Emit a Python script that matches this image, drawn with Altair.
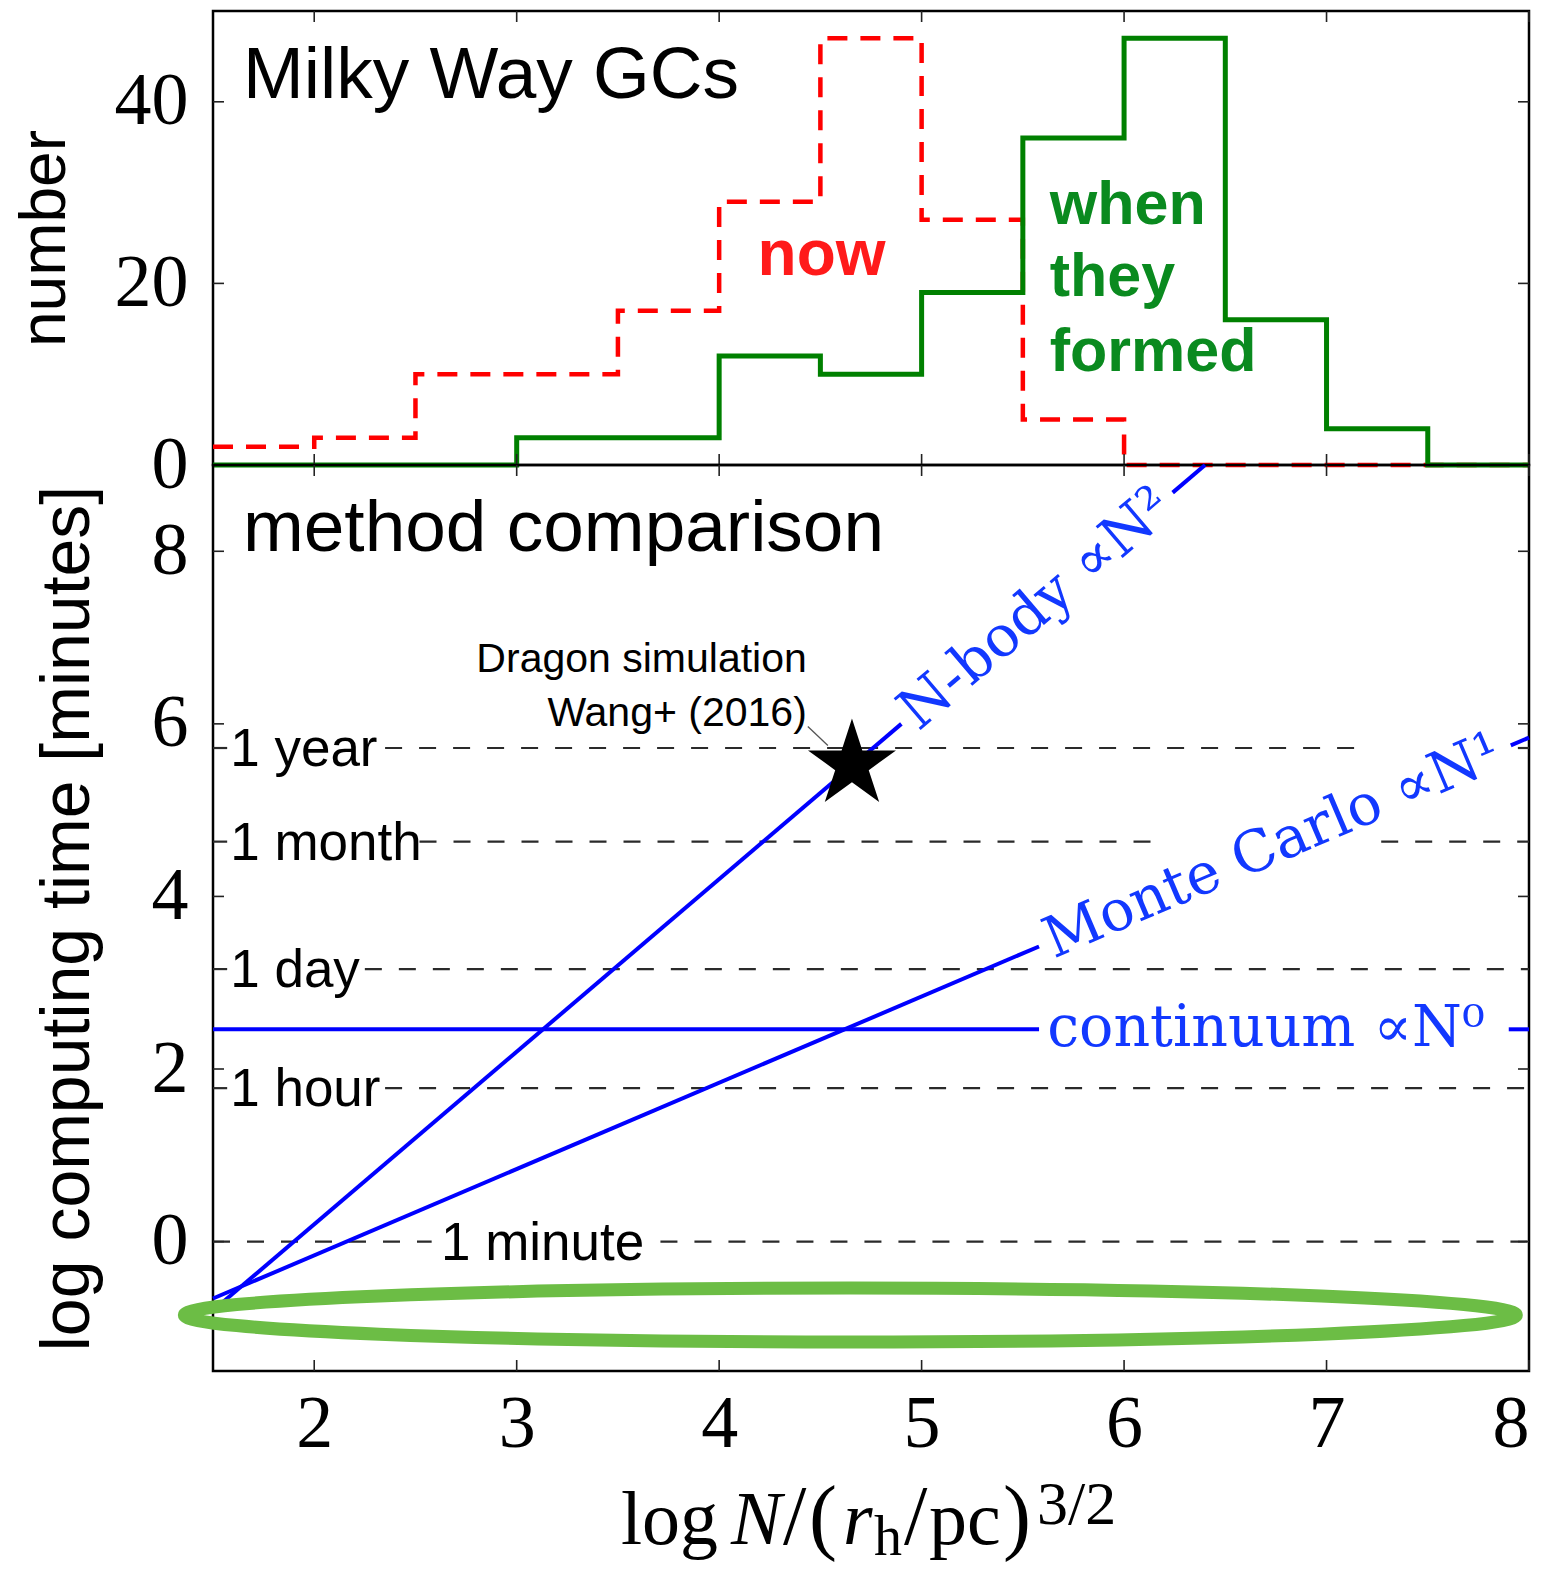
import altair as alt
import pandas as pd

# ---------------- data ----------------
bin_edges = [1.5, 2.0, 2.5, 3.0, 3.5, 4.0, 4.5, 5.0, 5.5, 6.0, 6.5, 7.0, 7.5, 8.0]
now_counts = [2, 3, 10, 10, 17, 29, 47, 27, 5, 0, 0, 0, 0]
formed_counts = [0, 0, 0, 3, 3, 12, 10, 19, 36, 47, 16, 4, 0]

x_ticks = [2, 3, 4, 5, 6, 7, 8]
top_y_ticks = [0, 20, 40]
bottom_y_ticks = [0, 2, 4, 6, 8]

time_labels = ["1 year", "1 month", "1 day", "1 hour", "1 minute"]
time_values = [5.72, 4.635, 3.158, 1.778, 0.0]
time_label_x = [1.585, 1.585, 1.585, 1.585, 2.626]

dash_y = [5.72, 5.72, 5.72, 4.635, 4.635, 4.635, 3.158, 3.158, 1.778, 1.778, 0.0, 0.0]
dash_x0 = [1.5, 2.35, 7.945, 1.5, 2.52, 7.27, 1.5, 2.25, 1.5, 2.35, 1.5, 3.71]
dash_x1 = [1.57, 7.18, 8.0, 1.57, 6.17, 8.0, 1.57, 8.0, 1.57, 8.0, 2.58, 8.0]

seg_x0 = [1.5, 6.24, 1.5, 7.91, 1.5, 7.90]
seg_y0 = [-0.80, 8.68, -0.66, 5.75, 2.46, 2.46]
seg_x1 = [4.90, 6.40, 5.58, 8.0, 5.58, 8.0]
seg_y1 = [6.00, 9.00, 3.42, 5.84, 2.46, 2.46]

method_labels = ["N-body \u221dN\u00b2", "Monte Carlo \u221dN\u00b9", "continuum \u221dN\u2070"]
method_label_x = [4.93, 5.62, 5.62]
method_label_y = [6.06, 3.46, 2.46]
method_label_angle = [319.6, 336.9, 0]

star_x = [4.656]
star_y = [5.527]

dragon_lines = ["Dragon simulation", "Wang+ (2016)"]
dragon_x = [4.433, 4.433]
dragon_y = [6.60, 5.98]
pointer = {"x": [4.438], "y": [5.97], "x1": [4.537], "y1": [5.75]}

ellipse_x = [4.648]
ellipse_y = [-0.852]

formed_lines = ["when", "they", "formed"]
formed_y = [26.5, 18.6, 10.35]

xtitle_regular = ["log", "/", "(", "/", "pc", ")"]
xtitle_regular_x = [3.515, 4.315, 4.444, 4.913, 5.037, 5.402]
xtitle_regular_size = [76, 84, 84, 84, 76, 84]
xtitle_italic = ["N", "r"]
xtitle_italic_x = [4.058, 4.612]
xtitle_small = ["h", "3/2"]
xtitle_small_x = [4.765, 5.570]
xtitle_small_y = [-3.63, -3.27]
xtitle_small_size = [56, 62]
xtitle_base_y = -3.50

# ---------------- scales / axes ----------------
W = 1316
H_TOP = 454
H_BOT = 906

xs = alt.Scale(domain=[1.5, 8], nice=False, zero=False)
ys_top = alt.Scale(domain=[0, 50], nice=False, zero=False)
ys_bot = alt.Scale(domain=[-1.5, 9], nice=False, zero=False)

SERIF = "Liberation Serif"
SANS = "Liberation Sans"

x_axis_bot = alt.Axis(values=x_ticks, format="d", title=None, labelFont=SERIF, labelFontSize=74,
                      labelColor="black", labelPadding=17, ticks=False, tickSize=0,
                      domain=False, grid=False, labelOverlap=False)
y_axis_top = alt.Axis(values=top_y_ticks, format="d", title="number", titleFont=SANS,
                      titleFontSize=64, titleFontWeight="normal", titleColor="black",
                      titlePadding=37, labelFont=SERIF, labelFontSize=74, labelColor="black",
                      labelPadding=25, ticks=False, tickSize=0, domain=False, grid=False,
                      labelOverlap=False)
y_axis_bot = alt.Axis(values=bottom_y_ticks, format="d", title="log computing time [minutes]",
                      titleFont=SANS, titleFontSize=68, titleFontWeight="normal",
                      titleColor="black", titlePadding=49, labelFont=SERIF, labelFontSize=74,
                      labelColor="black", labelPadding=25, ticks=False, tickSize=0,
                      domain=False, grid=False, labelOverlap=False)


def XT(f):
    return alt.X(f, type="quantitative", scale=xs, axis=None)


def YT(f):
    return alt.Y(f, type="quantitative", scale=ys_top, axis=y_axis_top)


def XB(f):
    return alt.X(f, type="quantitative", scale=xs, axis=x_axis_bot)


def YB(f):
    return alt.Y(f, type="quantitative", scale=ys_bot, axis=y_axis_bot)


# ---------------- top panel ----------------
now_df = pd.DataFrame({"x": bin_edges, "y": now_counts + [now_counts[-1]]})
formed_df = pd.DataFrame({"x": bin_edges, "y": formed_counts + [formed_counts[-1]]})

now_line = alt.Chart(now_df).mark_line(interpolate="step-after", color="#ff0000",
                                       strokeWidth=4.5, strokeDash=[20, 13]).encode(
    x=XT("x"), y=YT("y"))
formed_line = alt.Chart(formed_df).mark_line(interpolate="step-after", color="#008000",
                                             strokeWidth=5).encode(x=XT("x"), y=YT("y"))

mw_text = alt.Chart(pd.DataFrame({"x": [1.648], "y": [40.4], "t": ["Milky Way GCs"]})).mark_text(
    align="left", baseline="alphabetic", font=SANS, fontSize=73, color="black").encode(
    x=XT("x"), y=YT("y"), text="t:N")
now_text = alt.Chart(pd.DataFrame({"x": [4.19], "y": [20.9], "t": ["now"]})).mark_text(
    align="left", baseline="alphabetic", font=SANS, fontSize=64, fontWeight="bold",
    color="#ff1a1a").encode(x=XT("x"), y=YT("y"), text="t:N")
formed_text = alt.Chart(pd.DataFrame({"x": [5.633] * 3, "y": formed_y, "t": formed_lines})).mark_text(
    align="left", baseline="alphabetic", font=SANS, fontSize=61, fontWeight="bold",
    color="#0a8a1f").encode(x=XT("x"), y=YT("y"), text="t:N")

tick_style = dict(color="#222222", strokeWidth=1.6)
top_xt = pd.DataFrame({"v": x_ticks})
top_yt = pd.DataFrame({"v": top_y_ticks})
top_ticks = [
    alt.Chart(top_xt).mark_rule(y2Offset=-11, **tick_style).encode(
        x=XT("v"), y=alt.datum(0), y2=alt.datum(0)),
    alt.Chart(top_xt).mark_rule(y2Offset=11, **tick_style).encode(
        x=XT("v"), y=alt.datum(50), y2=alt.datum(50)),
    alt.Chart(top_yt).mark_rule(x2Offset=11, **tick_style).encode(
        y=YT("v"), x=alt.datum(1.5), x2=alt.datum(1.5)),
    alt.Chart(top_yt).mark_rule(x2Offset=-11, **tick_style).encode(
        y=YT("v"), x=alt.datum(8), x2=alt.datum(8)),
]

top = alt.layer(now_line, formed_line, mw_text, now_text, formed_text, *top_ticks).properties(
    width=W, height=H_TOP)

# ---------------- bottom panel ----------------
dash_df = pd.DataFrame({"x": dash_x0, "x1": dash_x1, "y": dash_y})
dashes = alt.Chart(dash_df).mark_rule(color="#2a2a2a", strokeWidth=2.2, strokeDash=[17, 17]).encode(
    x=XB("x"), x2="x1:Q", y=YB("y"))

time_df = pd.DataFrame({"x": time_label_x, "y": time_values, "t": time_labels})
time_text = alt.Chart(time_df).mark_text(align="left", baseline="middle", font=SANS, fontSize=53,
                                         color="black", dy=2).encode(
    x=XB("x"), y=YB("y"), text="t:N")

seg_df = pd.DataFrame({"x": seg_x0, "y": seg_y0, "x1": seg_x1, "y1": seg_y1})
blue_lines = alt.Chart(seg_df).mark_rule(color="#0000ff", strokeWidth=4).encode(
    x=XB("x"), y=YB("y"), x2="x1:Q", y2="y1:Q")

meth_df = pd.DataFrame({"x": method_label_x, "y": method_label_y, "t": method_labels,
                        "a": method_label_angle})
meth_text = alt.Chart(meth_df).mark_text(align="left", baseline="middle", font="DejaVu Serif",
                                         fontSize=57, color="#1238ff").encode(
    x=XB("x"), y=YB("y"), text="t:N", angle=alt.Angle("a:Q", scale=None))

star_path = ("M0,-1L0.2245,-0.309L0.951,-0.309L0.363,0.118L0.588,0.809L0,0.382"
             "L-0.588,0.809L-0.363,0.118L-0.951,-0.309L-0.2245,-0.309Z")
star = alt.Chart(pd.DataFrame({"x": star_x, "y": star_y})).mark_point(
    shape=star_path, filled=True, size=8556, color="black", opacity=1).encode(
    x=XB("x"), y=YB("y"))

pointer_line = alt.Chart(pd.DataFrame(pointer)).mark_rule(color="#555555", strokeWidth=1.3).encode(
    x=XB("x"), y=YB("y"), x2="x1:Q", y2="y1:Q")
dragon_text = alt.Chart(pd.DataFrame({"x": dragon_x, "y": dragon_y, "t": dragon_lines})).mark_text(
    align="right", baseline="alphabetic", font=SANS, fontSize=41, color="black").encode(
    x=XB("x"), y=YB("y"), text="t:N")

method_title = alt.Chart(pd.DataFrame({"x": [1.648], "y": [8.0], "t": ["method comparison"]})).mark_text(
    align="left", baseline="alphabetic", font=SANS, fontSize=73, color="black").encode(
    x=XB("x"), y=YB("y"), text="t:N")

bot_xt = pd.DataFrame({"v": x_ticks})
bot_yt = pd.DataFrame({"v": bottom_y_ticks})
bot_ticks = [
    alt.Chart(bot_xt).mark_rule(y2Offset=-11, **tick_style).encode(
        x=XB("v"), y=alt.datum(-1.5), y2=alt.datum(-1.5)),
    alt.Chart(bot_xt).mark_rule(y2Offset=11, **tick_style).encode(
        x=XB("v"), y=alt.datum(9), y2=alt.datum(9)),
    alt.Chart(bot_yt).mark_rule(x2Offset=11, **tick_style).encode(
        y=YB("v"), x=alt.datum(1.5), x2=alt.datum(1.5)),
    alt.Chart(bot_yt).mark_rule(x2Offset=-11, **tick_style).encode(
        y=YB("v"), x=alt.datum(8), x2=alt.datum(8)),
]

# x-axis title pieces: log N/(r_h/pc)^{3/2}
xt_reg = alt.Chart(pd.DataFrame({"x": xtitle_regular_x, "y": [xtitle_base_y] * len(xtitle_regular),
                                 "t": xtitle_regular, "s": xtitle_regular_size})).mark_text(
    align="left", baseline="alphabetic", font=SERIF, color="black").encode(
    x=XB("x"), y=YB("y"), text="t:N", size=alt.Size("s:Q", scale=None))
xt_it = alt.Chart(pd.DataFrame({"x": xtitle_italic_x, "y": [xtitle_base_y] * 2,
                                "t": xtitle_italic})).mark_text(
    align="left", baseline="alphabetic", font=SERIF, fontStyle="italic", fontSize=76,
    color="black").encode(x=XB("x"), y=YB("y"), text="t:N")
xt_small = alt.Chart(pd.DataFrame({"x": xtitle_small_x, "y": xtitle_small_y,
                                   "t": xtitle_small, "s": xtitle_small_size})).mark_text(
    align="left", baseline="alphabetic", font=SERIF, color="black").encode(
    x=XB("x"), y=YB("y"), text="t:N", size=alt.Size("s:Q", scale=None))

ellipse_path = "M-1,0A1,0.0405 0 1,0 1,0A1,0.0405 0 1,0 -1,0Z"
ellipse = alt.Chart(pd.DataFrame({"x": ellipse_x, "y": ellipse_y})).mark_point(
    shape=ellipse_path, filled=False, size=1774224, stroke="#6cbd45", strokeWidth=13,
    opacity=1).encode(x=XB("x"), y=YB("y"))

bottom = alt.layer(dashes, time_text, blue_lines, meth_text, pointer_line, star, dragon_text,
                   method_title, *bot_ticks, xt_reg, xt_it, xt_small, ellipse).properties(
    width=W, height=H_BOT)

chart = alt.vconcat(top, bottom, spacing=0, bounds="flush").properties(
    padding={"left": 11, "top": 8, "right": 0, "bottom": 0},
    background="white",
).configure_view(stroke="black", strokeWidth=2.5).configure_axis(grid=False)

chart.save("out.html", embed_options={"renderer": "svg", "actions": False})
